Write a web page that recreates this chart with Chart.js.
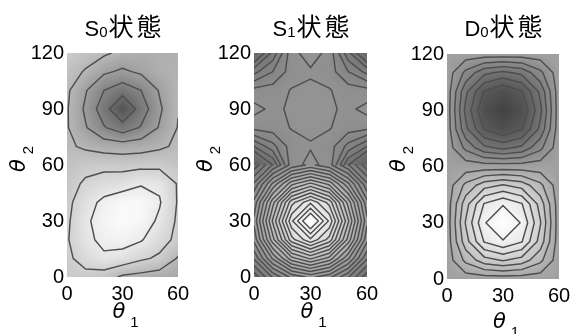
<!DOCTYPE html>
<html>
<head>
<meta charset="utf-8">
<script src="https://cdn.jsdelivr.net/npm/chart.js@4.4.0/dist/chart.umd.min.js"></script>
<style>
  html, body { margin: 0; padding: 0; background: #fff; }
  #wrap { position: relative; width: 576px; height: 334px; overflow: hidden; }
  #wrap canvas { position: absolute; left: 0; top: 0; }
</style>
</head>
<body>
<div id="wrap">
  <canvas id="chart-s0" width="576" height="334"></canvas>
  <canvas id="chart-s1" width="576" height="334"></canvas>
  <canvas id="chart-d0" width="576" height="334"></canvas>
</div>
<script>
// grid of the scans (degrees)
const theta1Grid = [0, 10, 20, 30, 40, 50, 60];
const theta2Grid = [0, 10, 20, 30, 40, 50, 60, 70, 80, 90, 100, 110, 120];
const theta2Lower = [0, 10, 20, 30, 40, 50, 60];
const theta2Upper = [60, 70, 80, 90, 100, 110, 120];
const theta1Ticks = [0, 30, 60];
const theta2Ticks = [0, 30, 60, 90, 120];

const s0Values = [
  [74, 75, 72, 64, 62, 60, 58],
  [76, 82, 88, 86, 80, 76, 65],
  [77, 87, 93, 94, 91, 83, 75],
  [76, 88, 95, 98, 96, 88, 76],
  [75, 85, 93, 97, 97, 91, 77],
  [73, 80, 83, 85, 89, 88, 77],
  [71, 74, 75, 74, 75, 75, 72],
  [68, 64, 61, 60, 61, 64, 68],
  [67, 55, 43, 35, 43, 55, 66.5],
  [67, 52, 35, 18, 35, 52, 65.5],
  [68, 55, 42, 35, 42, 55, 65],
  [71, 65, 56, 52, 56, 62, 64],
  [76, 71, 68, 63, 62, 62, 62]
];
const s0Levels = [30, 42, 54, 66, 78, 90];

const s1LowerValues = [
  [32, 41, 48, 51, 48, 41, 32],
  [41, 54, 65, 70, 65, 54, 41],
  [48, 65, 81, 88, 81, 65, 48],
  [51, 70, 88, 100, 88, 70, 51],
  [48, 65, 81, 88, 81, 65, 48],
  [41, 54, 65, 70, 65, 54, 41],
  [32, 41, 48, 51, 48, 41, 32]
];
const s1LowerLevels = [95, 91.8, 88.6, 85.4, 82.2, 79, 75.8, 72.6, 69.4, 66.2,
  63, 59.8, 56.6, 53.4, 50.2, 47, 43.8, 40.6, 37.4, 34.2];

const s1UpperValues = [
  [24, 33, 47, 48.8, 47, 33, 24],
  [36, 41, 46.5, 47.8, 46.5, 41, 36],
  [46, 46.5, 48.2, 48.5, 48.2, 46.5, 46],
  [49, 47.3, 48.5, 49, 48.5, 47.3, 49],
  [46, 46.5, 48.2, 48.6, 48.2, 46.5, 46],
  [38, 42, 46.5, 47.6, 46.5, 42, 38],
  [28, 37, 47, 49.5, 47, 37, 28]
];
const s1UpperLevels = [33, 36, 39, 42, 45, 48];

const d0Values = [
  [55, 55, 55, 55, 55, 55, 55],
  [55, 66, 74, 77, 74, 66, 55],
  [55, 74, 89, 94, 89, 74, 55],
  [55, 77, 94, 100, 94, 77, 55],
  [55, 74, 89, 94, 89, 74, 55],
  [55, 66, 74, 77, 74, 66, 55],
  [55, 55, 55, 55, 55, 55, 55],
  [55, 44, 35, 32, 35, 44, 55],
  [55, 35, 21, 16, 21, 35, 55],
  [55, 32, 16, 10, 16, 32, 55],
  [55, 35, 21, 16, 21, 35, 55],
  [55, 44, 35, 32, 35, 44, 55],
  [55, 55, 55, 55, 55, 55, 55]
];
const d0Levels = [15.5, 21.5, 27.5, 33.5, 39.5, 45.5, 51.5, 58.5, 64.5, 70.5, 76.5, 82.5, 88.5, 94.5];

const panels = [
  {
    id: "chart-s0", title: ["S", "0"], x1Base: 318,
    area: { left: 67, right: 178, top: 53, bottom: 277 },
    fields: [{ rows: theta2Grid, values: s0Values, levels: s0Levels }],
  },
  {
    id: "chart-s1", title: ["S", "1"], x1Base: 318,
    area: { left: 254, right: 367, top: 53, bottom: 277 },
    fields: [
      { rows: theta2Lower, values: s1LowerValues, levels: s1LowerLevels },
      { rows: theta2Upper, values: s1UpperValues, levels: s1UpperLevels },
    ],
  },
  {
    id: "chart-d0", title: ["D", "0"], x1Base: 328,
    area: { left: 447, right: 559, top: 54, bottom: 279 },
    fields: [{ rows: theta2Grid, values: d0Values, levels: d0Levels }],
  },
];

const Y_AXIS_W = 45;
const X_AXIS_H = 30;
const LINE_COLOR = "rgb(78,78,78)";

function grayOf(v) {
  return Math.max(0, Math.min(255, Math.round(45 + 2.1 * v)));
}

function locate(arr, v) {
  let i = 0;
  while (i < arr.length - 2 && v > arr[i + 1]) i++;
  const t = (v - arr[i]) / (arr[i + 1] - arr[i]);
  return [i, Math.max(0, Math.min(1, t))];
}

function sample(fields, t1, t2) {
  let f = fields[0];
  for (const cand of fields) {
    if (t2 >= cand.rows[0] && t2 <= cand.rows[cand.rows.length - 1]) { f = cand; break; }
  }
  const [i, tx] = locate(theta1Grid, t1);
  const [j, ty] = locate(f.rows, t2);
  const v = f.values;
  const a = v[j][i] * (1 - tx) + v[j][i + 1] * tx;
  const b = v[j + 1][i] * (1 - tx) + v[j + 1][i + 1] * tx;
  return a * (1 - ty) + b * ty;
}

// marching squares on one field, one level
function contourSegments(rows, vals, level) {
  const segs = [];
  for (let j = 0; j < rows.length - 1; j++) {
    for (let i = 0; i < theta1Grid.length - 1; i++) {
      const c = [
        [theta1Grid[i], rows[j], vals[j][i]],
        [theta1Grid[i + 1], rows[j], vals[j][i + 1]],
        [theta1Grid[i + 1], rows[j + 1], vals[j + 1][i + 1]],
        [theta1Grid[i], rows[j + 1], vals[j + 1][i]],
      ];
      const pts = [];
      for (let e = 0; e < 4; e++) {
        const p = c[e], q = c[(e + 1) % 4];
        if ((p[2] < level) !== (q[2] < level)) {
          const t = (level - p[2]) / (q[2] - p[2]);
          pts.push([p[0] + t * (q[0] - p[0]), p[1] + t * (q[1] - p[1])]);
        }
      }
      if (pts.length === 2) segs.push(pts);
      else if (pts.length === 4) {
        const mid = (c[0][2] + c[1][2] + c[2][2] + c[3][2]) / 4;
        if ((mid < level) === (c[0][2] < level)) {
          segs.push([pts[0], pts[1]], [pts[2], pts[3]]);
        } else {
          segs.push([pts[3], pts[0]], [pts[1], pts[2]]);
        }
      }
    }
  }
  return segs;
}

const contourPlugin = {
  id: "contourMap",
  beforeDatasetsDraw(chart, args, opts) {
    const panel = panels[opts.panel];
    const { ctx, chartArea: a } = chart;
    const xs = chart.scales.x, ys = chart.scales.y;
    const w = Math.round(a.right - a.left), h = Math.round(a.bottom - a.top);
    const off = document.createElement("canvas");
    off.width = w; off.height = h;
    const octx = off.getContext("2d");
    const img = octx.createImageData(w, h);
    for (let j = 0; j < h; j++) {
      const t2 = ys.getValueForPixel(a.top + j + 0.5);
      for (let i = 0; i < w; i++) {
        const t1 = xs.getValueForPixel(a.left + i + 0.5);
        const g = grayOf(sample(panel.fields, t1, t2));
        const k = (j * w + i) * 4;
        img.data[k] = img.data[k + 1] = img.data[k + 2] = g;
        img.data[k + 3] = 255;
      }
    }
    octx.putImageData(img, 0, 0);
    ctx.drawImage(off, a.left, a.top);

    ctx.save();
    ctx.beginPath();
    ctx.rect(a.left, a.top, w, h);
    ctx.clip();
    ctx.strokeStyle = LINE_COLOR;
    ctx.lineWidth = 1.45;
    ctx.lineJoin = "round";
    ctx.lineCap = "round";
    ctx.beginPath();
    for (const f of panel.fields) {
      for (const lv of f.levels) {
        for (const s of contourSegments(f.rows, f.values, lv)) {
          ctx.moveTo(xs.getPixelForValue(s[0][0]), ys.getPixelForValue(s[0][1]));
          ctx.lineTo(xs.getPixelForValue(s[1][0]), ys.getPixelForValue(s[1][1]));
        }
      }
    }
    ctx.stroke();
    ctx.restore();
  },
};

function drawParts(ctx, cx, cy, parts) {
  let total = 0;
  for (const p of parts) {
    ctx.font = p.font;
    p.w = p.adv || ctx.measureText(p.text).width;
    total += p.w + (p.gap || 0);
  }
  let x = cx - total / 2;
  for (const p of parts) {
    ctx.font = p.font;
    ctx.fillText(p.text, x, cy + (p.dy || 0));
    x += p.w + (p.gap || 0);
  }
}

const textPlugin = {
  id: "panelText",
  afterDraw(chart, args, opts) {
    const panel = panels[opts.panel];
    const { ctx, chartArea: a } = chart;
    const cx = (a.left + a.right) / 2;
    ctx.save();
    ctx.fillStyle = "#000";
    ctx.textBaseline = "alphabetic";
    ctx.textAlign = "left";
    drawParts(ctx, cx + 1, 36, [
      { text: panel.title[0], font: '22px "Liberation Sans"', gap: 0 },
      { text: panel.title[1], font: '15px "Liberation Sans"', dy: 1, gap: 1 },
      { text: "状", font: '25px "Noto Sans CJK JP"', adv: 28 },
      { text: "態", font: '25px "Noto Sans CJK JP"', adv: 26 },
    ]);
    // theta1 (bottom)
    drawParts(ctx, cx + 3, panel.x1Base, [
      { text: "θ", font: 'oblique 21px "DejaVu Sans"', gap: 5 },
      { text: "1", font: '15px "Liberation Sans"', dy: 9 },
    ]);
    // theta2 (rotated)
    ctx.translate(a.left - 42, 159);
    ctx.rotate(-Math.PI / 2);
    drawParts(ctx, 0, 0, [
      { text: "θ", font: 'oblique 21px "DejaVu Sans"', gap: 5 },
      { text: "2", font: '15px "Liberation Sans"', dy: 8 },
    ]);
    ctx.restore();
  },
};

function makeChart(panel, index) {
  const a = panel.area;
  const pts = [];
  for (const f of panel.fields) {
    f.rows.forEach((t2, j) => theta1Grid.forEach((t1, i) => pts.push({ x: t1, y: t2, v: f.values[j][i] })));
  }
  const tickFont = { family: '"Liberation Sans", Arial, sans-serif', size: 20 };
  return new Chart(document.getElementById(panel.id), {
    type: "scatter",
    data: { datasets: [{ data: pts, pointRadius: 0, showLine: false }] },
    options: {
      responsive: false,
      animation: false,
      events: [],
      layout: {
        padding: {
          left: a.left - Y_AXIS_W,
          right: 576 - a.right,
          top: a.top,
          bottom: 334 - a.bottom - X_AXIS_H,
        },
      },
      plugins: {
        legend: { display: false },
        tooltip: { enabled: false },
        contourMap: { panel: index },
        panelText: { panel: index },
      },
      scales: {
        x: {
          type: "linear", min: 0, max: 60,
          afterBuildTicks: (s) => { s.ticks = theta1Ticks.map((v) => ({ value: v })); },
          afterFit: (s) => { s.height = X_AXIS_H; },
          grid: { display: false, drawTicks: false },
          border: { display: false },
          ticks: { font: tickFont, color: "#000", padding: 5, maxRotation: 0, autoSkip: false },
        },
        y: {
          type: "linear", min: 0, max: 120,
          afterBuildTicks: (s) => { s.ticks = theta2Ticks.map((v) => ({ value: v })); },
          afterFit: (s) => { s.width = Y_AXIS_W; },
          grid: { display: false, drawTicks: false },
          border: { display: false },
          ticks: { font: tickFont, color: "#000", padding: 3, autoSkip: false },
        },
      },
    },
    plugins: [contourPlugin, textPlugin],
  });
}

function init() {
  panels.forEach((p, i) => makeChart(p, i));
}

Promise.all([
  document.fonts.load('22px "Liberation Sans"'),
  document.fonts.load('25px "Noto Sans CJK JP"', "状態"),
  document.fonts.load('oblique 21px "DejaVu Sans"', "θ"),
]).catch(() => {}).then(init);
</script>
</body>
</html>
